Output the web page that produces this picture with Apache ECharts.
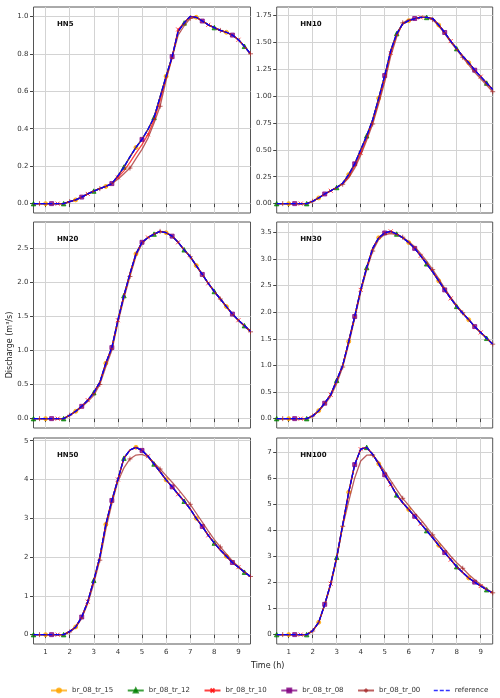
<!DOCTYPE html>
<html>
<head>
<meta charset="utf-8">
<script src="https://cdn.jsdelivr.net/npm/echarts@6/dist/echarts.min.js"></script>
<style>
  html, body { margin: 0; padding: 0; background: #fff; }
  #chart { width: 500px; height: 698px; }
</style>
</head>
<body>
<div id="chart"></div>
<script>
// time steps (h)
const times = [0.5,0.75,1,1.25,1.5,1.75,2,2.25,2.5,2.75,3,3.25,3.5,3.75,4,4.25,4.5,4.75,5,5.25,5.5,5.75,6,6.25,6.5,6.75,7,7.25,7.5,7.75,8,8.25,8.5,8.75,9,9.25,9.5];
const xTicks = [1,2,3,4,5,6,7,8,9];

// HN5
const hn5Ref  = [0,0,0,0,0,0,0.011,0.02,0.035,0.052,0.067,0.08,0.092,0.107,0.148,0.195,0.25,0.3,0.343,0.397,0.46,0.57,0.68,0.785,0.92,0.965,1.0,0.995,0.975,0.955,0.94,0.925,0.915,0.9,0.875,0.84,0.8];
const hn5Tr10 = [0,0,0,0,0,0,0.011,0.02,0.035,0.052,0.067,0.08,0.092,0.107,0.14,0.175,0.22,0.27,0.315,0.37,0.445,0.55,0.67,0.78,0.93,0.965,1.0,0.995,0.975,0.955,0.94,0.925,0.915,0.9,0.875,0.84,0.8];
const hn5Tr00 = [0,0,0,0,0,0,0.011,0.02,0.035,0.052,0.067,0.08,0.092,0.107,0.13,0.16,0.19,0.24,0.29,0.35,0.43,0.52,0.66,0.78,0.9,0.95,0.99,0.995,0.975,0.955,0.94,0.925,0.915,0.9,0.875,0.84,0.8];
// HN10
const hn10Ref  = [0,0,0,0,0,0,0.022,0.053,0.09,0.12,0.15,0.19,0.27,0.37,0.5,0.63,0.78,0.98,1.19,1.42,1.58,1.67,1.7,1.72,1.73,1.73,1.72,1.66,1.59,1.51,1.44,1.37,1.31,1.24,1.18,1.12,1.06];
const hn10Tr10 = [0,0,0,0,0,0,0.022,0.053,0.09,0.12,0.15,0.185,0.25,0.35,0.47,0.61,0.76,0.95,1.16,1.4,1.57,1.67,1.7,1.72,1.73,1.73,1.72,1.66,1.59,1.51,1.44,1.37,1.31,1.24,1.18,1.12,1.06];
const hn10Tr00 = [0,0,0,0,0,0,0.022,0.053,0.09,0.12,0.15,0.18,0.24,0.33,0.45,0.59,0.74,0.93,1.13,1.37,1.55,1.68,1.71,1.72,1.73,1.73,1.71,1.65,1.58,1.5,1.43,1.36,1.29,1.22,1.16,1.1,1.04];
// HN20
const hn20Ref  = [0,0,0,0,0,0,0.05,0.107,0.18,0.27,0.38,0.53,0.81,1.04,1.44,1.8,2.12,2.41,2.58,2.65,2.7,2.74,2.72,2.67,2.58,2.47,2.37,2.24,2.11,1.98,1.86,1.75,1.64,1.53,1.44,1.36,1.28];
const hn20Tr00 = [0,0,0,0,0,0,0.05,0.1,0.17,0.25,0.34,0.5,0.76,1.0,1.4,1.76,2.08,2.38,2.56,2.65,2.7,2.74,2.72,2.67,2.58,2.47,2.37,2.24,2.11,1.98,1.86,1.75,1.64,1.53,1.44,1.35,1.27];
// HN30
const hn30Ref  = [0,0,0,0,0,0,0.05,0.15,0.29,0.45,0.72,1.0,1.45,1.92,2.42,2.84,3.2,3.4,3.49,3.52,3.47,3.4,3.31,3.2,3.06,2.91,2.76,2.59,2.42,2.26,2.11,1.98,1.86,1.73,1.62,1.51,1.4];
const hn30Tr00 = [0,0,0,0,0,0,0.05,0.14,0.27,0.42,0.66,0.97,1.4,1.88,2.38,2.8,3.15,3.37,3.46,3.48,3.46,3.41,3.33,3.23,3.1,2.96,2.8,2.63,2.45,2.28,2.13,1.99,1.86,1.73,1.62,1.51,1.4];
// HN50
const hn50Ref  = [0,0,0,0,0,0,0.08,0.2,0.455,0.85,1.4,2.0,2.84,3.46,4.0,4.55,4.76,4.83,4.75,4.6,4.4,4.2,3.99,3.81,3.62,3.44,3.24,3.0,2.79,2.56,2.36,2.18,2.02,1.86,1.74,1.61,1.5];
const hn50Tr00 = [0,0,0,0,0,0,0.07,0.18,0.42,0.8,1.32,1.92,2.72,3.38,3.95,4.3,4.53,4.63,4.65,4.58,4.43,4.27,4.1,3.93,3.75,3.56,3.36,3.13,2.9,2.67,2.45,2.26,2.08,1.9,1.76,1.62,1.5];
// HN100
const hn100Ref  = [0,0,0,0,0,0,0.15,0.47,1.16,1.95,2.96,4.2,5.45,6.51,7.1,7.17,6.9,6.54,6.12,5.75,5.35,5.05,4.79,4.53,4.25,3.98,3.71,3.42,3.14,2.87,2.6,2.38,2.17,2.01,1.86,1.72,1.6];
const hn100Tr00 = [0,0,0,0,0,0,0.14,0.45,1.12,1.9,2.9,4.15,5.1,6.0,6.65,6.87,6.88,6.6,6.25,5.9,5.55,5.22,4.95,4.66,4.4,4.12,3.82,3.55,3.28,3.0,2.75,2.54,2.3,2.1,1.92,1.75,1.6];

const panelNames = ['HN5','HN10','HN20','HN30','HN50','HN100'];
const yTicks = [
  [0,0.2,0.4,0.6,0.8,1.0],
  [0,0.25,0.5,0.75,1.0,1.25,1.5,1.75],
  [0,0.5,1.0,1.5,2.0,2.5],
  [0,0.5,1.0,1.5,2.0,2.5,3.0,3.5],
  [0,1,2,3,4,5],
  [0,1,2,3,4,5,6,7]
];
const yDecimals = [1,2,1,1,0,0];
const yMin = [-0.05,-0.087,-0.137,-0.176,-0.241,-0.359];
const yMax = [1.05,1.827,2.877,3.696,5.07,7.529];

// per panel: [tr_15, tr_12, tr_10, tr_08, tr_00, reference]
const panelSeries = [
  [hn5Ref, hn5Ref, hn5Tr10, hn5Ref, hn5Tr00, hn5Ref],
  [hn10Ref, hn10Ref, hn10Tr10, hn10Ref, hn10Tr00, hn10Ref],
  [hn20Ref, hn20Ref, hn20Ref, hn20Ref, hn20Tr00, hn20Ref],
  [hn30Ref, hn30Ref, hn30Ref, hn30Ref, hn30Tr00, hn30Ref],
  [hn50Ref, hn50Ref, hn50Ref, hn50Ref, hn50Tr00, hn50Ref],
  [hn100Ref, hn100Ref, hn100Ref, hn100Ref, hn100Tr00, hn100Ref]
];

const seriesNames = ['br_08_tr_15','br_08_tr_12','br_08_tr_10','br_08_tr_08','br_08_tr_00','reference'];
const seriesColors = ['#ffa500','#008000','#ff0000','#800080','#a52a2a','#0000ff'];
const seriesSymbols = ['circle','triangle','path://M0,0 L10,10 M10,0 L0,10','rect','path://M5,0 L5,10 M0,5 L10,5','none'];
const symbolSizes = [4,4.5,4,4,5,0];
const markOffset = [2,0,4,3,1,-1];

const chart = echarts.init(document.getElementById('chart'));

const lefts = [33.5, 276.7];
const tops = [7, 222, 438];
const grids = [], xAxes = [], yAxes = [], titles = [], series = [];

for (let p = 0; p < 6; p++) {
  const col = p % 2, row = Math.floor(p / 2);
  grids.push({left: lefts[col], top: tops[row], width: col ? 216 : 217, height: 206,
    show: true, borderColor: '#555', borderWidth: 1, backgroundColor: '#fff'});
  xAxes.push({
    type: 'value', gridIndex: p, min: 0.5, max: 9.5,
    axisLine: {show: false},
    axisTick: {show: true, length: 3.5, lineStyle: {color: '#444'}, customValues: xTicks},
    axisLabel: {show: row === 2, color: '#333', fontSize: 7, margin: 5, customValues: xTicks},
    splitLine: {show: true, lineStyle: {color: '#d3d3d3', width: 1}}
  });
  yAxes.push({
    type: 'value', gridIndex: p, min: yMin[p], max: yMax[p],
    axisLine: {show: false},
    axisTick: {show: true, length: 3.5, lineStyle: {color: '#444'}, customValues: yTicks[p]},
    axisLabel: {color: '#333', fontSize: 7, margin: 5, customValues: yTicks[p],
      formatter: v => Number(v).toFixed(yDecimals[p])},
    splitLine: {show: true, lineStyle: {color: '#d3d3d3', width: 1}}
  });
  titles.push({text: panelNames[p], left: lefts[col] + 18.5, top: tops[row] + 9,
    textStyle: {fontSize: 7, fontWeight: 'bold', color: '#111', fontFamily: 'DejaVu Sans'}});

  for (let s = 0; s < 6; s++) {
    const vals = panelSeries[p][s];
    const isRef = s === 5;
    series.push({
      name: seriesNames[s], type: 'line', xAxisIndex: p, yAxisIndex: p,
      data: times.map((t, i) => (!isRef && i % 5 === markOffset[s]) ? [t, vals[i]] : {value: [t, vals[i]], symbol: 'none'}),
      symbol: seriesSymbols[s], symbolSize: symbolSizes[s], showAllSymbol: true,
      itemStyle: {color: seriesColors[s], borderColor: seriesColors[s], borderWidth: isRef ? 0 : 1, opacity: isRef ? 1 : 0.75},
      lineStyle: {color: seriesColors[s], width: 1.3, type: isRef ? [5, 2] : 'solid', opacity: isRef ? 1 : 0.75},
      emphasis: {disabled: true},
      z: 2 + s
    });
  }
}

// dashed legend icon for the reference line (bbox 16 x 5 = item box)
const dashIcon = 'path://M0,0 L0.01,0 L0,0.01 Z M16,5 L15.99,5 L16,4.99 Z M0,1.8 L4,1.8 L4,3.2 L0,3.2 Z M6,1.8 L10,1.8 L10,3.2 L6,3.2 Z M12,1.8 L16,1.8 L16,3.2 L12,3.2 Z';
const legendData = seriesNames.map((n, i) => i === 5
  ? {name: n, icon: dashIcon, itemStyle: {borderWidth: 0, color: '#3333ff'}}
  : {name: n});

chart.setOption({
  animation: false,
  textStyle: {fontFamily: 'DejaVu Sans'},
  title: titles,
  grid: grids,
  xAxis: xAxes,
  yAxis: yAxes,
  legend: {
    data: legendData, left: 45, top: 682, itemWidth: 16, itemHeight: 5, itemGap: 13.5,
    textStyle: {fontSize: 7, color: '#333'}
  },
  graphic: [
    {type: 'text', left: 251, top: 662, style: {text: 'Time (h)', fontSize: 8, fill: '#222', fontFamily: 'DejaVu Sans'}},
    {type: 'text', x: 10, y: 345, rotation: Math.PI / 2,
      style: {text: 'Discharge (m³/s)', fontSize: 8, fill: '#222', align: 'center', verticalAlign: 'middle', fontFamily: 'DejaVu Sans'}}
  ],
  series: series
});
</script>
</body>
</html>
